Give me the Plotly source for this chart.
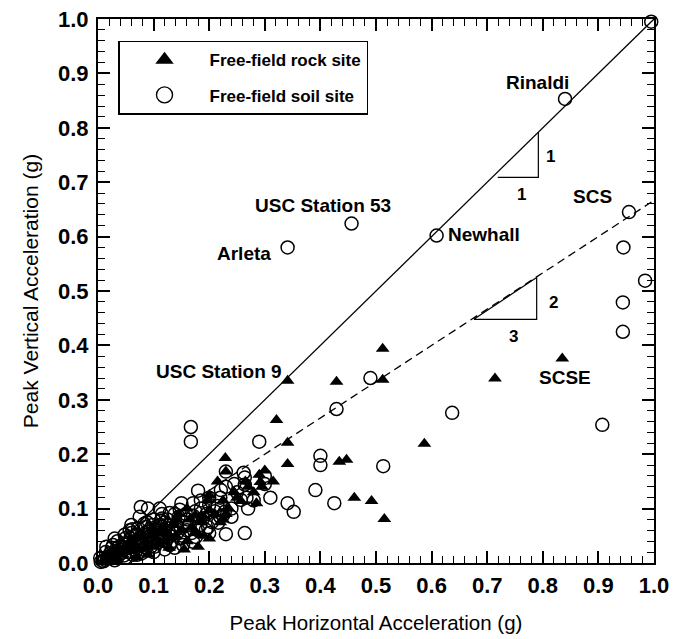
import plotly.graph_objects as go

# ---------------- data ----------------
soil_x = [0.84, 0.456, 0.341, 0.609, 0.955, 0.945, 0.984, 0.944, 0.944, 0.907,
          0.637, 0.49, 0.429, 0.167, 0.167, 0.29, 0.40, 0.40, 0.513, 0.391,
          0.425, 0.341, 0.352, 0.995,
          0.23, 0.262, 0.264, 0.264, 0.30, 0.221, 0.23, 0.18, 0.257, 0.267,
          0.228, 0.22, 0.23, 0.264, 0.20, 0.185, 0.24, 0.25, 0.21,
          0.077, 0.09, 0.111, 0.129, 0.147, 0.171, 0.20, 0.171, 0.189, 0.184,
          0.198, 0.225, 0.216, 0.20, 0.194, 0.176, 0.171, 0.048, 0.05, 0.027,
          0.014, 0.004, 0.11, 0.129, 0.138, 0.153, 0.072, 0.086, 0.099, 0.068,
          0.09, 0.12, 0.14, 0.155, 0.13, 0.105, 0.085, 0.06, 0.04, 0.02,
          0.03, 0.06, 0.10, 0.12, 0.145, 0.16, 0.175, 0.15, 0.115, 0.075,
          0.095, 0.07, 0.05, 0.03, 0.01, 0.015, 0.045, 0.08,
          0.005, 0.012, 0.018, 0.025, 0.032, 0.038, 0.045, 0.052, 0.058, 0.065,
          0.072, 0.078, 0.085, 0.092, 0.098, 0.105, 0.112, 0.118, 0.125, 0.132,
          0.138, 0.142, 0.148, 0.158, 0.165, 0.168, 0.18, 0.185, 0.195, 0.205,
          0.215, 0.22, 0.24, 0.245, 0.27, 0.28, 0.30, 0.31, 0.10, 0.12,
          0.06, 0.035, 0.025, 0.042, 0.055, 0.068, 0.082, 0.095, 0.108, 0.122,
          0.135, 0.062, 0.088, 0.115,
          0.008, 0.016, 0.022, 0.028, 0.036, 0.044, 0.054, 0.063, 0.071, 0.079,
          0.087, 0.093, 0.102, 0.109, 0.117, 0.124, 0.133, 0.141, 0.152, 0.161,
          0.034, 0.047, 0.057, 0.066, 0.083, 0.097, 0.113, 0.127]
soil_y = [0.853, 0.624, 0.58, 0.602, 0.645, 0.58, 0.519, 0.479, 0.425, 0.254,
          0.276, 0.34, 0.283, 0.25, 0.223, 0.223, 0.197, 0.18, 0.178, 0.134,
          0.11, 0.11, 0.094, 0.995,
          0.168, 0.166, 0.157, 0.144, 0.145, 0.134, 0.14, 0.133, 0.116, 0.12,
          0.094, 0.085, 0.053, 0.055, 0.12, 0.10, 0.10, 0.13, 0.095,
          0.103, 0.10, 0.10, 0.092, 0.098, 0.11, 0.107, 0.087, 0.082, 0.07,
          0.066, 0.088, 0.074, 0.055, 0.061, 0.048, 0.039, 0.052, 0.046, 0.033,
          0.02, 0.009, 0.039, 0.033, 0.028, 0.033, 0.064, 0.066, 0.064, 0.052,
          0.057, 0.06, 0.07, 0.075, 0.05, 0.045, 0.04, 0.03, 0.02, 0.01,
          0.045, 0.07, 0.08, 0.075, 0.085, 0.06, 0.095, 0.11, 0.09, 0.085,
          0.03, 0.015, 0.01, 0.005, 0.003, 0.03, 0.035, 0.025,
          0.002, 0.006, 0.012, 0.015, 0.022, 0.03, 0.025, 0.035, 0.045, 0.04,
          0.03, 0.045, 0.055, 0.048, 0.07, 0.06, 0.07, 0.05, 0.08, 0.065,
          0.09, 0.055, 0.045, 0.09, 0.07, 0.055, 0.06, 0.115, 0.09, 0.075,
          0.105, 0.12, 0.085, 0.145, 0.10, 0.115, 0.16, 0.12, 0.02, 0.025,
          0.055, 0.04, 0.028, 0.018, 0.028, 0.022, 0.035, 0.04, 0.052, 0.04,
          0.058, 0.062, 0.075, 0.082,
          0.004, 0.008, 0.018, 0.01, 0.012, 0.03, 0.02, 0.015, 0.038, 0.018,
          0.028, 0.062, 0.03, 0.055, 0.042, 0.07, 0.04, 0.062, 0.05, 0.08,
          0.028, 0.014, 0.06, 0.05, 0.072, 0.052, 0.078, 0.058]

rock_x = [0.835, 0.714, 0.587, 0.512, 0.512, 0.429, 0.341, 0.321, 0.341, 0.341,
          0.434, 0.447, 0.229, 0.461, 0.492, 0.515,
          0.23, 0.29, 0.292, 0.295, 0.20, 0.257, 0.285, 0.23, 0.225, 0.22,
          0.175, 0.19, 0.20, 0.16, 0.14, 0.12, 0.10, 0.08, 0.06, 0.04, 0.02,
          0.01, 0.15, 0.17, 0.13, 0.11, 0.09, 0.07, 0.19, 0.20, 0.18, 0.155,
          0.215, 0.245, 0.225, 0.28, 0.197,
          0.025, 0.035, 0.05, 0.065, 0.075, 0.085, 0.095, 0.105, 0.115, 0.125,
          0.135, 0.145, 0.165, 0.185, 0.21, 0.235, 0.25, 0.265, 0.27, 0.30, 0.315,
          0.015, 0.03, 0.045, 0.055, 0.07, 0.088, 0.1, 0.118, 0.128, 0.14, 0.16, 0.176]
rock_y = [0.376, 0.339, 0.219, 0.394, 0.337, 0.333, 0.335, 0.263, 0.221, 0.182,
          0.186, 0.19, 0.193, 0.12, 0.114, 0.081,
          0.168, 0.162, 0.149, 0.14, 0.125, 0.114, 0.11, 0.09, 0.08, 0.075,
          0.088, 0.085, 0.097, 0.10, 0.08, 0.07, 0.06, 0.05, 0.04, 0.025, 0.012,
          0.005, 0.06, 0.065, 0.045, 0.035, 0.015, 0.01, 0.05, 0.045, 0.03, 0.025,
          0.15, 0.13, 0.115, 0.13, 0.116,
          0.01, 0.018, 0.03, 0.035, 0.025, 0.04, 0.05, 0.045, 0.06, 0.055,
          0.07, 0.09, 0.08, 0.075, 0.09, 0.10, 0.12, 0.15, 0.14, 0.17, 0.15,
          0.008, 0.006, 0.015, 0.022, 0.048, 0.028, 0.03, 0.04, 0.028, 0.05, 0.04, 0.055]

ref_x = [0.0, 1.0]
ref_y = [0.0, 1.0]          # slope 1:1
ref2_x = [0.2, 1.0]
ref2_y = [0.1333, 0.6667]   # slope 2:3

site_labels = ["Rinaldi", "USC Station 53", "Arleta", "SCS", "SCSE"]
site_lx = [0.79, 0.405, 0.262, 0.89, 0.84]
site_ly = [0.884, 0.658, 0.569, 0.674, 0.341]

# slope triangles
tri1_x = [0.719, 0.792, 0.792]
tri1_y = [0.709, 0.709, 0.792]
tri2_x = [0.676, 0.789, 0.789, 0.676]
tri2_y = [0.448, 0.448, 0.525, 0.448]
slope_txt = ["1", "1", "2", "3"]
slope_tx = [0.814, 0.762, 0.819, 0.748]
slope_ty = [0.748, 0.678, 0.479, 0.416]

FONT = "Liberation Sans, Arial, sans-serif"

fig = go.Figure()

fig.add_trace(go.Scatter(x=ref_x, y=ref_y, mode="lines", line=dict(color="black", width=1.3),
                         showlegend=False, hoverinfo="skip"))
fig.add_trace(go.Scatter(x=ref2_x, y=ref2_y, mode="lines",
                         line=dict(color="black", width=1.3, dash="8px,5px"),
                         showlegend=False, hoverinfo="skip"))
fig.add_trace(go.Scatter(x=tri1_x, y=tri1_y, mode="lines", line=dict(color="black", width=1.2),
                         showlegend=False, hoverinfo="skip"))
fig.add_trace(go.Scatter(x=tri2_x, y=tri2_y, mode="lines", line=dict(color="black", width=1.2),
                         showlegend=False, hoverinfo="skip"))

fig.add_trace(go.Scatter(x=soil_x, y=soil_y, mode="markers", showlegend=False,
                         marker=dict(symbol="circle-open", size=13, color="black",
                                     line=dict(width=1.5, color="black")),
                         cliponaxis=False))
fig.add_trace(go.Scatter(x=rock_x, y=rock_y, mode="markers", showlegend=False,
                         marker=dict(symbol="triangle-up", size=12, color="black"),
                         cliponaxis=False))

# legend entries (same symbols, drawn larger in the legend box)
fig.add_trace(go.Scatter(x=[None], y=[None], mode="markers", name="Free-field rock site",
                         legendgroup="a", legendrank=1,
                         marker=dict(symbol="triangle-up", size=16, color="black")))
fig.add_trace(go.Scatter(x=[None], y=[None], mode="markers", name="Free-field soil site",
                         legendgroup="b", legendrank=2,
                         marker=dict(symbol="circle-open", size=16, color="black",
                                     line=dict(width=1.4, color="black"))))

for t, x, y in zip(site_labels, site_lx, site_ly):
    fig.add_annotation(x=x, y=y, text="<b>" + t + "</b>", showarrow=False,
                       font=dict(family=FONT, size=19, color="black"))
fig.add_annotation(x=0.625, y=0.603, text="<b>Newhall</b>", showarrow=False, xanchor="left",
                   font=dict(family=FONT, size=19, color="black"))
fig.add_annotation(x=0.335, y=0.352, text="<b>USC Station 9</b>", showarrow=False, xanchor="right",
                   font=dict(family=FONT, size=19, color="black"))

for t, x, y in zip(slope_txt, slope_tx, slope_ty):
    fig.add_annotation(x=x, y=y, text="<b>" + t + "</b>", showarrow=False,
                       font=dict(family=FONT, size=17, color="black"))

axis_common = dict(range=[0, 1], dtick=0.1, tick0=0, tickformat=".1f",
                   showline=True, linecolor="black", linewidth=2, mirror="ticks",
                   ticks="inside", ticklen=12, tickwidth=2, tickcolor="black",
                   minor=dict(dtick=0.02, ticks="inside", ticklen=7, tickwidth=1.3, tickcolor="black"),
                   showgrid=False, zeroline=False, ticklabeloverflow="allow",
                   tickfont=dict(family=FONT, size=22, color="black", weight="bold"))

fig.update_xaxes(**axis_common, ticklabelstandoff=2,
                 title=dict(text="Peak Horizontal Acceleration (g)",
                            font=dict(family=FONT, size=20.5, color="black"), standoff=18))
fig.update_yaxes(**axis_common, ticklabelstandoff=3,
                 title=dict(text="Peak Vertical Acceleration (g)",
                            font=dict(family=FONT, size=21, color="black"), standoff=14))

fig.update_layout(
    width=688, height=639,
    margin=dict(l=90, r=42, t=11, b=84, autoexpand=False),
    plot_bgcolor="white", paper_bgcolor="white",
    showlegend=True,
    legend=dict(x=0.036, y=0.96, xanchor="left", yanchor="top",
                bordercolor="black", borderwidth=1.5, bgcolor="white",
                font=dict(family=FONT, size=17, color="black", weight="bold"),
                itemwidth=80, tracegroupgap=10, traceorder="grouped"),
)

fig.write_html("out.html")
